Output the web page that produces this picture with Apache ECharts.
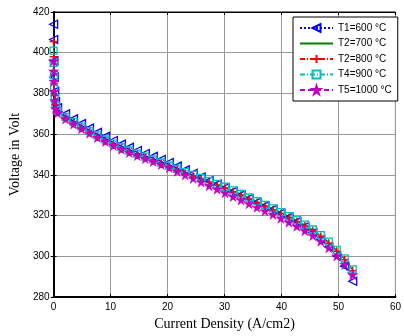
<!DOCTYPE html>
<html><head><meta charset="utf-8">
<script src="https://cdn.jsdelivr.net/npm/echarts@6/dist/echarts.min.js"></script>
<style>html,body{margin:0;padding:0;background:#fff}#c{width:404px;height:336px}</style>
</head><body><div id="c"></div>
<script>
const current = [0, 0.02, 0.05, 0.1, 0.2, 0.35, 0.7, 2.1, 3.5, 4.9, 6.3, 7.7, 9.1, 10.5, 11.9, 13.3, 14.7, 16.1, 17.5, 18.9, 20.3, 21.7, 23.1, 24.5, 25.9, 27.3, 28.7, 30.1, 31.5, 32.9, 34.3, 35.7, 37.1, 38.5, 39.9, 41.3, 42.7, 44.1, 45.5, 46.9, 48.3, 49.7, 51.1, 52.5];
const vT1 = [414, 406.5, 396, 388, 381, 376, 373, 370, 367.5, 365.2, 363, 360.9, 358.9, 356.9, 355.1, 353.5, 352, 350.5, 349.1, 347.6, 346.1, 344.3, 342.5, 340.8, 339, 337.2, 335.5, 333.7, 331.9, 330.2, 328.4, 326.6, 324.8, 323.1, 321.2, 319.3, 317.1, 314.6, 311.7, 308.4, 304.7, 300.2, 295.2, 287.8];
const vT2 = [408, 400, 393, 386, 380, 375, 371.2, 368.2, 365.7, 363.4, 361.2, 359.1, 357.1, 355.1, 353.3, 351.7, 350.2, 348.7, 347.3, 345.8, 344.3, 342.7, 341.1, 339.7, 338.2, 336.7, 335.3, 333.9, 332.1, 330.4, 328.6, 326.8, 325.0, 323.3, 321.4, 319.5, 317.5, 315.3, 312.9, 310.1, 306.9, 302.9, 298.7, 293.3];
const vT3 = [405.5, 398, 391, 385, 379, 374.5, 370.8, 367.8, 365.3, 363.0, 360.8, 358.7, 356.7, 354.7, 352.9, 351.3, 349.8, 348.3, 346.9, 345.4, 343.9, 342.3, 340.7, 339.3, 337.8, 336.3, 334.9, 333.5, 331.7, 330.0, 328.2, 326.4, 324.6, 322.9, 321.0, 319.1, 317.1, 314.9, 312.5, 309.7, 306.5, 302.5, 298.3, 292.9];
const vT4 = [401, 395, 389, 383, 378, 374, 371.5, 368.5, 366, 363.7, 361.5, 359.4, 357.4, 355.4, 353.6, 352, 350.5, 349, 347.6, 346.1, 344.6, 343.0, 341.4, 340.0, 338.5, 337.0, 335.6, 334.2, 332.4, 330.7, 328.9, 327.1, 325.3, 323.6, 321.7, 319.8, 317.8, 315.6, 313.2, 310.4, 307.2, 303.2, 299, 293.6];
const vT5 = [396, 391, 386, 381, 376.5, 372.5, 370.5, 367.5, 365, 362.7, 360.5, 358.4, 356.4, 354.4, 352.6, 351, 349.5, 348, 346.6, 345.1, 343.6, 341.8, 340.0, 338.3, 336.5, 334.7, 333.0, 331.2, 329.4, 327.7, 325.9, 324.1, 322.3, 320.6, 318.7, 316.8, 314.8, 312.6, 310.2, 307.4, 304.2, 300.2, 296, 291];
const seriesNames = ['T1=600 °C', 'T2=700 °C', 'T2=800 °C', 'T4=900 °C', 'T5=1000 °C'];
const xTicks = [0, 10, 20, 30, 40, 50, 60];
const yTicks = [280, 300, 320, 340, 360, 380, 400, 420];

const pair = v => current.map((x, i) => [x, v[i]]);
const sans = 'Liberation Sans, Arial, sans-serif';
const serif = 'Liberation Serif, Times New Roman, serif';
const STAR = 'path://M50,0L61,35L98,35L68,57L79,91L50,70L21,91L32,57L2,35L39,35Z';
const PLUS = 'path://M0,5L10,5M5,0L5,10';

const chart = echarts.init(document.getElementById('c'), null, {renderer: 'canvas'});
chart.setOption({
  animation: false,
  backgroundColor: '#fff',
  grid: {left: 46, right: 4, top: 12, bottom: 37, show: true, borderColor: '#000', borderWidth: 1},
  legend: {
    left: 293, top: 17, orient: 'vertical',
    backgroundColor: '#fff', borderColor: '#000', borderWidth: 1, borderRadius: 0,
    padding: [6, 6, 6, 6], itemWidth: 33, itemHeight: 10, itemGap: 5.5,
    textStyle: {fontSize: 10, fontFamily: sans, color: '#000'},
    data: [
      {name: seriesNames[0]},
      {name: seriesNames[1], itemStyle: {opacity: 0}},
      {name: seriesNames[2]},
      {name: seriesNames[3]},
      {name: seriesNames[4]}
    ]
  },
  xAxis: [{
    type: 'value', min: xTicks[0], max: xTicks[xTicks.length - 1], interval: 10,
    name: 'Current Density (A/cm2)', nameLocation: 'middle', nameGap: 18,
    nameTextStyle: {fontFamily: serif, fontSize: 14, color: '#000'},
    axisLine: {show: true, lineStyle: {color: '#000', width: 2}},
    axisTick: {show: true, inside: true, length: 3, lineStyle: {color: '#000'}},
    axisLabel: {fontFamily: sans, fontSize: 10, color: '#000', margin: 5},
    splitLine: {show: true, lineStyle: {color: '#999', width: 1}}
  }, {
    type: 'value', position: 'top', min: 0, max: 60, interval: 10,
    axisLine: {show: true, lineStyle: {color: '#000', width: 1}},
    axisTick: {show: true, inside: true, length: 3, lineStyle: {color: '#000'}},
    axisLabel: {show: false}, splitLine: {show: false}
  }],
  yAxis: [{
    type: 'value', min: yTicks[0], max: yTicks[yTicks.length - 1], interval: 20,
    name: 'Voltage in Volt', nameLocation: 'middle', nameGap: 25,
    nameTextStyle: {fontFamily: serif, fontSize: 14, color: '#000'},
    axisLine: {show: true, lineStyle: {color: '#000', width: 2}},
    axisTick: {show: true, inside: true, length: 3, lineStyle: {color: '#000'}},
    axisLabel: {fontFamily: sans, fontSize: 10, color: '#000', margin: 4},
    splitLine: {show: true, lineStyle: {color: '#999', width: 1}}
  }, {
    type: 'value', position: 'right', min: 280, max: 420, interval: 20,
    axisLine: {show: true, lineStyle: {color: '#000', width: 1}},
    axisTick: {show: true, inside: true, length: 3, lineStyle: {color: '#000'}},
    axisLabel: {show: false}, splitLine: {show: false}
  }],
  series: [
    {name: seriesNames[0], type: 'line', data: pair(vT1), symbol: 'triangle', symbolRotate: 90, symbolSize: 8,
     lineStyle: {color: '#0000ff', width: 1, type: 'dotted'},
     itemStyle: {color: 'rgba(255,255,255,0)', borderColor: '#0000ff', borderWidth: 1.3}},
    {name: seriesNames[1], type: 'line', data: pair(vT2), symbol: 'none',
     lineStyle: {color: '#008000', width: 1.3, type: 'solid'},
     itemStyle: {color: '#008000'}},
    {name: seriesNames[2], type: 'line', data: pair(vT3), symbol: PLUS, symbolSize: 8,
     lineStyle: {color: '#ff0000', width: 1, type: [5, 2, 1, 2]},
     itemStyle: {color: 'rgba(255,255,255,0)', borderColor: '#ff0000', borderWidth: 1.5}},
    {name: seriesNames[3], type: 'line', data: pair(vT4), symbol: 'rect', symbolSize: 7,
     lineStyle: {color: '#00bfbf', width: 1, type: [5, 2, 1, 2]},
     itemStyle: {color: 'rgba(255,255,255,0)', borderColor: '#00bfbf', borderWidth: 1.3}},
    {name: seriesNames[4], type: 'line', data: pair(vT5), symbol: STAR, symbolSize: 10,
     lineStyle: {color: '#bf00bf', width: 1, type: [5, 3]},
     itemStyle: {color: '#bf00bf', borderColor: '#bf00bf', borderWidth: 0.5}}
  ]
});
</script></body></html>
